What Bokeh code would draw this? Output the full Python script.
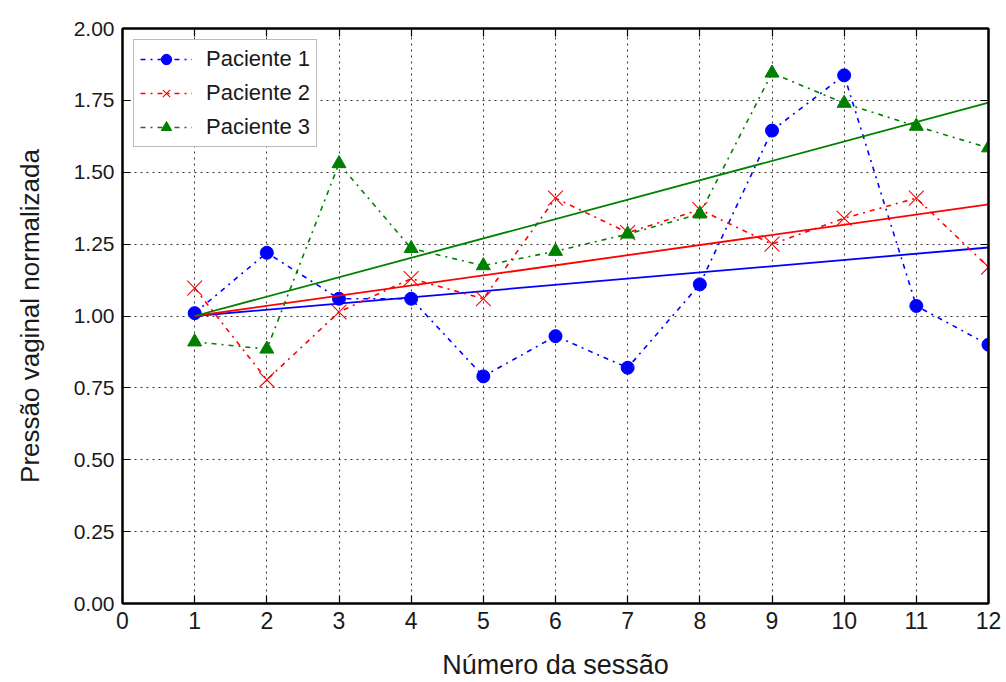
import numpy as np
from bokeh.plotting import figure
from bokeh.models import (Range1d, LinearAxis, Legend, LegendItem,
                          NumeralTickFormatter, FixedTicker)
from bokeh.embed import file_html
from bokeh.resources import INLINE

# ---------------- data ----------------
sessions = [1, 2, 3, 4, 5, 6, 7, 8, 9, 10, 11, 12]
paciente_1 = [1.01, 1.22, 1.06, 1.06, 0.79, 0.93, 0.82, 1.11, 1.645, 1.837, 1.035, 0.90]
paciente_2 = [1.097, 0.778, 1.014, 1.13, 1.06, 1.41, 1.29, 1.37, 1.25, 1.34, 1.41, 1.17]
paciente_3 = [0.91, 0.885, 1.53, 1.235, 1.175, 1.225, 1.285, 1.355, 1.845, 1.74, 1.66, 1.585]
labels = ["Paciente 1", "Paciente 2", "Paciente 3"]
colors = ["#0000ff", "#ff0000", "#008000"]
markers = ["circle", "x", "triangle"]
x_ticks = list(range(0, 13))
y_ticks = [0.0, 0.25, 0.5, 0.75, 1.0, 1.25, 1.5, 1.75, 2.0]

FONT = "Liberation Sans"
TXT = "#1a1a1a"

p = figure(width=1006, height=682, output_backend="svg", toolbar_location=None,
           x_range=Range1d(0, 12), y_range=Range1d(0, 2),
           min_border_left=122, min_border_right=18, min_border_top=28, min_border_bottom=78,
           background_fill_color="white", border_fill_color="white")
p.xaxis.visible = False
p.yaxis.visible = False
p.outline_line_color = "black"
p.outline_line_width = 2

# grid
p.xgrid.ticker = FixedTicker(ticks=x_ticks)
p.ygrid.ticker = FixedTicker(ticks=y_ticks)
for g in (p.xgrid, p.ygrid):
    g.grid_line_color = "#333333"
    g.grid_line_dash = "2 4"
    g.grid_line_width = 1
    g.grid_line_alpha = 1

def style_axis(ax, show_labels):
    ax.major_tick_in = 8
    ax.major_tick_out = 0
    ax.minor_tick_line_color = None
    ax.axis_line_width = 2
    ax.axis_line_color = "black"
    ax.major_tick_line_color = "black"
    ax.major_tick_line_width = 1.2
    ax.major_label_standoff = 8
    ax.major_label_text_color = TXT
    ax.axis_label_text_color = TXT
    if not show_labels:
        ax.major_label_text_alpha = 0
        ax.major_label_text_font_size = "1px"

xb = LinearAxis(ticker=FixedTicker(ticks=x_ticks), axis_label="Número da sessão")
style_axis(xb, True)
xb.major_label_text_font = FONT
xb.major_label_text_font_size = "23px"
xb.axis_label_text_font = FONT
xb.axis_label_text_font_size = "27px"
xb.axis_label_text_font_style = "normal"
xb.axis_label_standoff = 18
p.add_layout(xb, "below")

yl = LinearAxis(ticker=FixedTicker(ticks=y_ticks), axis_label="Pressão vaginal normalizada",
                formatter=NumeralTickFormatter(format="0.00"))
style_axis(yl, True)
yl.major_label_text_font = FONT
yl.major_label_text_font_size = "21px"
yl.axis_label_text_font = FONT
yl.axis_label_text_font_size = "26px"
yl.axis_label_text_font_style = "normal"
yl.axis_label_standoff = 26
p.add_layout(yl, "left")

xt = LinearAxis(ticker=FixedTicker(ticks=x_ticks))
style_axis(xt, False)
p.add_layout(xt, "above")
yr = LinearAxis(ticker=FixedTicker(ticks=y_ticks))
style_axis(yr, False)
p.add_layout(yr, "right")

# ---------------- series ----------------
items = []
xs = np.array(sessions, dtype=float)
for vals, lab, col, mk in zip([paciente_1, paciente_2, paciente_3], labels, colors, markers):
    ys = np.array(vals)
    # least-squares trend line forced through (1, 1)
    slope = np.sum((xs - 1) * (ys - 1)) / np.sum((xs - 1) ** 2)
    tx = [xs[0], xs[-1]]
    ty = [1 + slope * (t - 1) for t in tx]
    p.line(tx, ty, line_color=col, line_width=1.8)
    lr = p.line(sessions, vals, line_color=col, line_width=1.6, line_dash="5 5 2 5")
    if mk == "x":
        sr = p.scatter(sessions, vals, marker="x", size=21, line_color=col, line_width=1.1)
    elif mk == "circle":
        sr = p.scatter(sessions, vals, marker="circle", size=13, fill_color=col, line_color=col)
    else:
        sr = p.scatter(sessions, vals, marker="triangle", size=14, fill_color=col, line_color=col)
    items.append(LegendItem(label=lab, renderers=[lr, sr]))

legend = Legend(items=items, location="top_left")
legend.margin = 11
legend.padding = 6
legend.spacing = 8
legend.glyph_width = 52
legend.glyph_height = 26
legend.label_height = 26
legend.label_standoff = 14
legend.label_text_font = FONT
legend.label_text_font_size = "22px"
legend.label_text_color = TXT
legend.border_line_color = "#777777"
legend.border_line_width = 1.5
legend.background_fill_color = "white"
legend.background_fill_alpha = 1
p.add_layout(legend, "center")

open("out.html", "w").write(file_html(p, INLINE))
